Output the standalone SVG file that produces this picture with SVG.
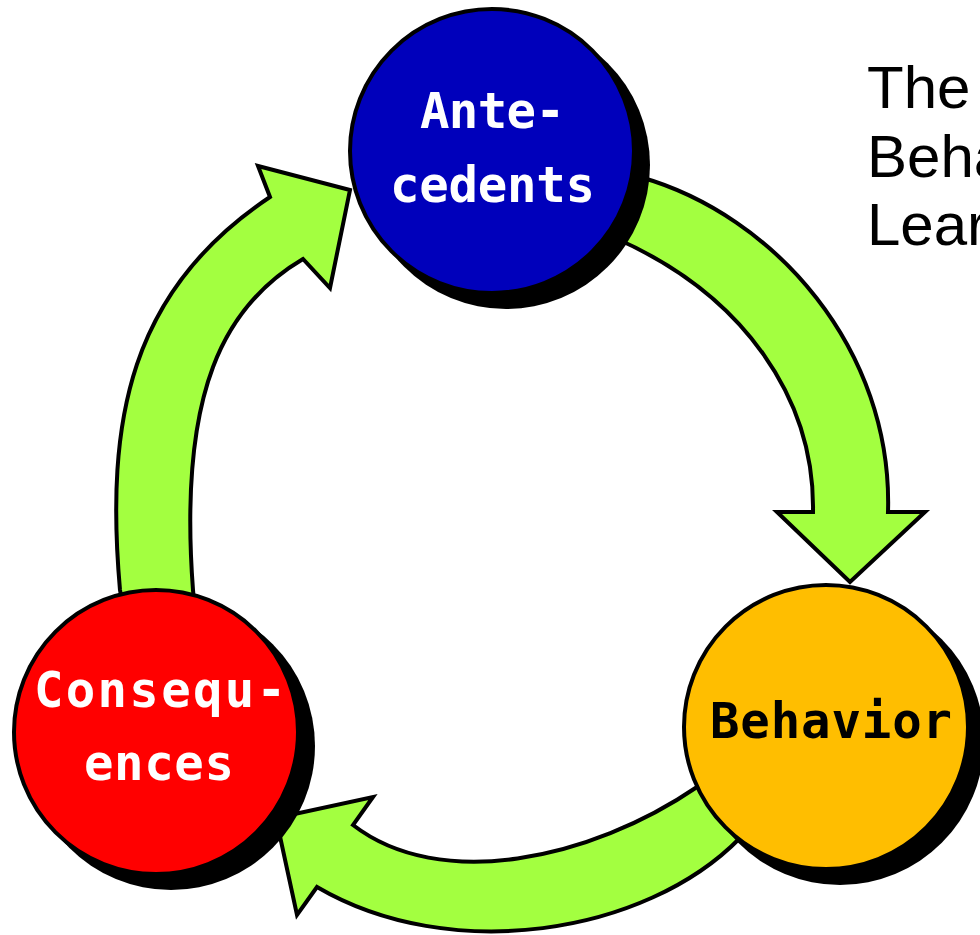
<svg xmlns="http://www.w3.org/2000/svg" width="980" height="935" viewBox="0 0 980 935">
  <style>
    .arrow { fill: #A3FF40; stroke: #000; stroke-width: 4; stroke-linejoin: miter; }
    .shadow { fill: #000; }
    .ring { stroke: #000; stroke-width: 4; }
    .lbl { font-family: "DejaVu Sans Mono", "Liberation Mono", monospace; font-weight: bold; font-size: 49px; }
    .title { font-family: "Liberation Sans", Arial, sans-serif; font-size: 60px; fill: #000; }
  </style>
  <rect width="980" height="935" fill="#fff"/>
  <g id="connectors">
    <path id="arrow-antecedents-behavior" class="arrow" d="M 620,168 L 640,177 C 775,215 893,350 888,512 L 925,512 L 850,582 L 777,512 L 813,512 C 815,400 745,295 615,238 L 598,230 Z"/>
    <path id="arrow-behavior-consequences" class="arrow" d="M 720,775 L 697,787 C 590,860 440,892 353,825 L 373,797 L 276,818 L 297,915 L 317,887 C 450,965 645,935 740,838 L 760,825 Z"/>
    <path id="arrow-consequences-antecedents" class="arrow" d="M 124,612 L 120,590 C 105,420 130,290 270,197 L 258,166 L 350,190 L 330,288 L 303,259 C 225,305 178,390 193,590 L 195,612 Z"/>
  </g>
  <g id="antecedents">
    <circle class="shadow" cx="506" cy="165" r="144"/>
    <circle class="ring" cx="492" cy="151" r="142" fill="#0000BB"/>
    <text class="lbl" x="420" y="128" fill="#fff" textLength="145" lengthAdjust="spacing">Ante-</text>
    <text class="lbl" x="390" y="202" fill="#fff" textLength="205" lengthAdjust="spacing">cedents</text>
  </g>
  <g id="behavior">
    <circle class="shadow" cx="840" cy="741" r="144"/>
    <circle class="ring" cx="826" cy="727" r="142" fill="#FFBE00"/>
    <text class="lbl" x="710" y="738" fill="#000" textLength="242" lengthAdjust="spacing">Behavior</text>
  </g>
  <g id="consequences">
    <circle class="shadow" cx="171" cy="746" r="144"/>
    <circle class="ring" cx="156" cy="732" r="142" fill="#FF0000"/>
    <text class="lbl" x="34" y="707" fill="#fff" textLength="252" lengthAdjust="spacing">Consequ-</text>
    <text class="lbl" x="84" y="780" fill="#fff" textLength="150" lengthAdjust="spacing">ences</text>
  </g>
  <g id="title">
    <text class="title" x="867" y="108">The</text>
    <text class="title" x="867" y="177">Beha</text>
    <text class="title" x="867" y="245">Lear</text>
  </g>
</svg>
